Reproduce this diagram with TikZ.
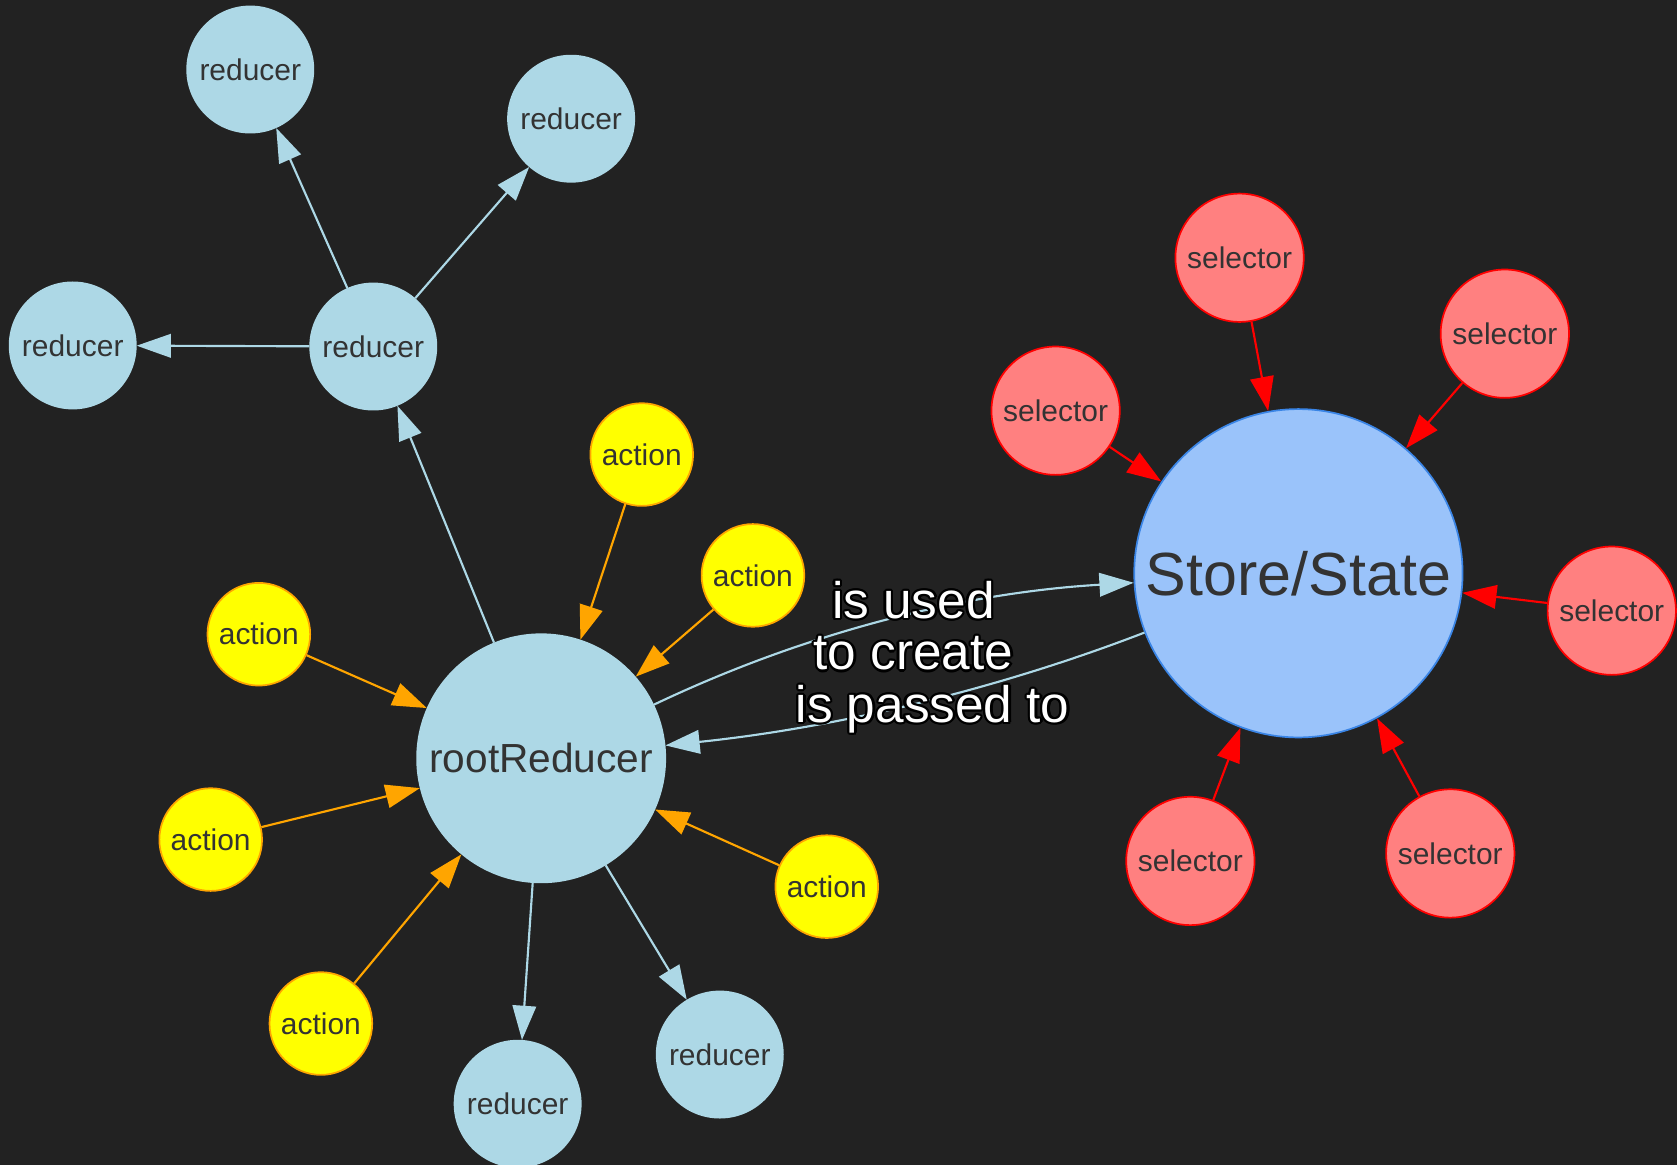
\documentclass[tikz,border=0pt]{standalone}
\usepackage{fontspec}
\setmainfont{Liberation Sans}
\usetikzlibrary{arrows.meta}

\definecolor{bgdark}{HTML}{222222}
\definecolor{inktext}{HTML}{333333}
\definecolor{redfill}{HTML}{ADD8E6}
\definecolor{actfill}{HTML}{FFFF00}
\definecolor{actline}{HTML}{FFA500}
\definecolor{selfill}{HTML}{FF8080}
\definecolor{selline}{HTML}{FF0000}
\definecolor{storefill}{HTML}{9AC3FA}
\definecolor{storeline}{HTML}{3A85E6}

\tikzset{
  ball/.style={circle, inner sep=0pt, line width=1.6pt, text=inktext,
    font=\fontsize{28}{32}\selectfont},
  reducerball/.style={ball, fill=redfill, draw=redfill, minimum size=118pt},
  actionball/.style={ball, fill=actfill, draw=actline, minimum size=96pt},
  selectorball/.style={ball, fill=selfill, draw=selline, minimum size=120pt},
  rootball/.style={reducerball, minimum size=232pt, font=\fontsize{38}{44}\selectfont},
  storeball/.style={ball, fill=storefill, draw=storeline, minimum size=307pt,
    font=\fontsize{57}{64}\selectfont},
  link/.style={line width=2pt, -{Triangle[length=32pt,width=22pt]}},
  bluelink/.style={link, draw=redfill},
  orangelink/.style={link, draw=actline},
  redlink/.style={link, draw=selline},
  lbltext/.style={align=center, inner sep=0pt,
    font=\fontsize{48}{48}\selectfont},
}

\begin{document}
\begin{tikzpicture}[x=1pt, y=-1pt]
  % canvas
  \fill[bgdark] (0,0) rectangle (1568,1089);
  \useasboundingbox (0,0) rectangle (1568,1089);

  % reducer tree
  \node[reducerball] (rTop)   at (234,65)  {reducer};
  \node[reducerball] (rRight) at (534,111) {reducer};
  \node[reducerball] (rLeft)  at (68,323)  {reducer};
  \node[reducerball] (rMid)   at (349,324) {reducer};
  \node[rootball]    (root)   at (506,709) {rootReducer};
  \node[reducerball] (rBotA)  at (484,1032) {reducer};
  \node[reducerball] (rBotB)  at (673,986) {reducer};

  % actions
  \node[actionball] (a1) at (600,425) {action};
  \node[actionball] (a2) at (704,538) {action};
  \node[actionball] (a3) at (242,593) {action};
  \node[actionball] (a4) at (197,785) {action};
  \node[actionball] (a5) at (773,829) {action};
  \node[actionball] (a6) at (300,957) {action};

  % store and selectors
  \node[storeball] (store) at (1214,536) {Store/State};
  \node[selectorball] (s1) at (1159,241) {selector};
  \node[selectorball] (s2) at (1407,312) {selector};
  \node[selectorball] (s3) at (987,384)  {selector};
  \node[selectorball] (s4) at (1507,571) {selector};
  \node[selectorball] (s5) at (1113,805) {selector};
  \node[selectorball] (s6) at (1356,798) {selector};

  % reducer edges
  \draw[bluelink] (rMid) -- (rTop);
  \draw[bluelink] (rMid) -- (rRight);
  \draw[bluelink] (rMid) -- (rLeft);
  \draw[bluelink] (root) -- (rMid);
  \draw[bluelink] (root) -- (rBotA);
  \draw[bluelink] (root) -- (rBotB);

  % action edges
  \foreach \a in {a1,a2,a3,a4,a5,a6}
    \draw[orangelink] (\a) -- (root);

  % selector edges
  \foreach \s in {s1,s2,s3,s4,s5,s6}
    \draw[redlink] (\s) -- (store);

  % root <-> store
  \coordinate (cA1) at (754,591);
  \coordinate (cA2) at (902,554);
  \coordinate (cB1) at (926,647);
  \coordinate (cB2) at (776,681);
  \draw[bluelink] (root) .. controls (cA1) and (cA2) .. (store);
  \draw[bluelink] (store) .. controls (cB1) and (cB2) .. (root);

  % outlined edge labels
  \foreach \ang in {0,30,...,330} {
    \node[lbltext, text=black] at ([shift={(\ang:2.2)}]854,585) {is used\\to create};
    \node[lbltext, text=black] at ([shift={(\ang:2.2)}]872,663) {is passed to};
  }
  \node[lbltext, text=white] (usedLbl)   at (854,585) {is used\\to create};
  \node[lbltext, text=white] (passedLbl) at (872,663) {is passed to};
\end{tikzpicture}
\end{document}
